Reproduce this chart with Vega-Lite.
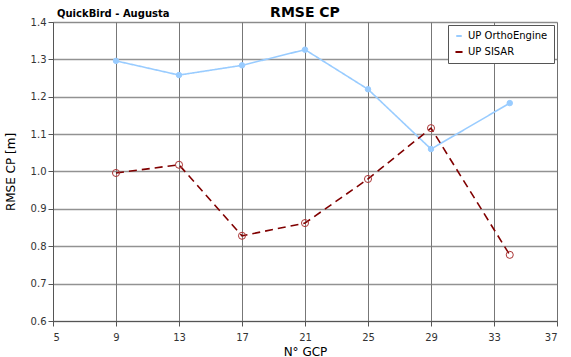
{
  "$schema": "https://vega.github.io/schema/vega-lite/v6.json",
  "width": 504,
  "height": 299,
  "autosize": "none",
  "padding": {"left": 53, "top": 22, "right": 14, "bottom": 36},
  "background": "white",
  "title": {"text": "RMSE CP", "anchor": "middle", "fontSize": 14, "fontWeight": "bold", "font": "DejaVu Sans", "color": "black", "offset": 3, "dy": 14},
  "data": {"values": [
    {"gcp": 9, "rmse": 1.296, "series": "UP OrthoEngine"},
    {"gcp": 13, "rmse": 1.258, "series": "UP OrthoEngine"},
    {"gcp": 17, "rmse": 1.284, "series": "UP OrthoEngine"},
    {"gcp": 21, "rmse": 1.326, "series": "UP OrthoEngine"},
    {"gcp": 25, "rmse": 1.22, "series": "UP OrthoEngine"},
    {"gcp": 29, "rmse": 1.06, "series": "UP OrthoEngine"},
    {"gcp": 34, "rmse": 1.183, "series": "UP OrthoEngine"},
    {"gcp": 9, "rmse": 0.996, "series": "UP SISAR"},
    {"gcp": 13, "rmse": 1.018, "series": "UP SISAR"},
    {"gcp": 17, "rmse": 0.828, "series": "UP SISAR"},
    {"gcp": 21, "rmse": 0.862, "series": "UP SISAR"},
    {"gcp": 25, "rmse": 0.98, "series": "UP SISAR"},
    {"gcp": 29, "rmse": 1.116, "series": "UP SISAR"},
    {"gcp": 34, "rmse": 0.777, "series": "UP SISAR"}
  ]},
  "encoding": {
    "x": {"field": "gcp", "type": "quantitative", "title": "N° GCP",
      "scale": {"domain": [5, 37], "nice": false, "zero": false},
      "axis": {"values": [5, 9, 13, 17, 21, 25, 29, 33, 37], "gridColor": "#555555", "gridOpacity": 0.8, "domainColor": "#555555", "tickColor": "#555555", "labelFont": "DejaVu Sans", "labelFontSize": 10, "labelColor": "#333333", "labelPadding": 6, "titleFont": "DejaVu Sans", "titleFontSize": 12, "titleFontWeight": "normal", "titlePadding": 4, "tickSize": 5}},
    "y": {"field": "rmse", "type": "quantitative", "title": "RMSE CP [m]",
      "scale": {"domain": [0.6, 1.4], "nice": false, "zero": false},
      "axis": {"values": [0.6, 0.7, 0.8, 0.9, 1.0, 1.1, 1.2, 1.3, 1.4], "format": ".1f", "gridColor": "#777777", "gridOpacity": 0.8, "gridWidth": 1.5, "domainColor": "#555555", "tickColor": "#555555", "labelFont": "DejaVu Sans", "labelFontSize": 10, "labelColor": "#333333", "titleFont": "DejaVu Sans", "titleFontSize": 12, "titleFontWeight": "normal", "titlePadding": 13, "tickSize": 5}}
  },
  "layer": [
    {
      "mark": {"type": "line", "strokeWidth": 1.6},
      "encoding": {
        "color": {"field": "series", "type": "nominal",
          "scale": {"domain": ["UP OrthoEngine", "UP SISAR"], "range": ["#99ccff", "#800000"]},
          "legend": {"title": null, "orient": "top-right", "offset": 3, "strokeColor": "#555555", "fillColor": "white", "padding": 6, "labelFont": "DejaVu Sans", "labelFontSize": 10, "labelColor": "black", "symbolType": "stroke", "symbolSize": 600, "symbolStrokeWidth": 2, "rowPadding": 6}},
        "strokeDash": {"field": "series", "type": "nominal",
          "scale": {"domain": ["UP OrthoEngine", "UP SISAR"], "range": [[1, 0], [8, 5]]}}
      }
    },
    {
      "mark": {"type": "point", "filled": false, "strokeWidth": 1, "opacity": 1},
      "encoding": {
        "shape": {"value": "circle"},
        "stroke": {"field": "series", "type": "nominal", "legend": null,
          "scale": {"domain": ["UP OrthoEngine", "UP SISAR"], "range": ["#99ccff", "#aa3333"]}},
        "fill": {"field": "series", "type": "nominal", "legend": null,
          "scale": {"domain": ["UP OrthoEngine", "UP SISAR"], "range": ["#99ccff", "rgba(255,255,255,0)"]}},
        "size": {"field": "series", "type": "nominal", "legend": null,
          "scale": {"domain": ["UP OrthoEngine", "UP SISAR"], "range": [30, 50]}}
      }
    },
    {
      "data": {"values": [{"label": "QuickBird - Augusta", "gx": 5, "gy": 1.4}]},
      "mark": {"type": "text", "align": "left", "baseline": "bottom", "dx": 4, "dy": -3, "font": "DejaVu Sans", "fontSize": 10, "fontWeight": "bold", "color": "black"},
      "encoding": {
        "x": {"field": "gx", "type": "quantitative"},
        "y": {"field": "gy", "type": "quantitative"},
        "text": {"field": "label"}
      }
    }
  ]
}
